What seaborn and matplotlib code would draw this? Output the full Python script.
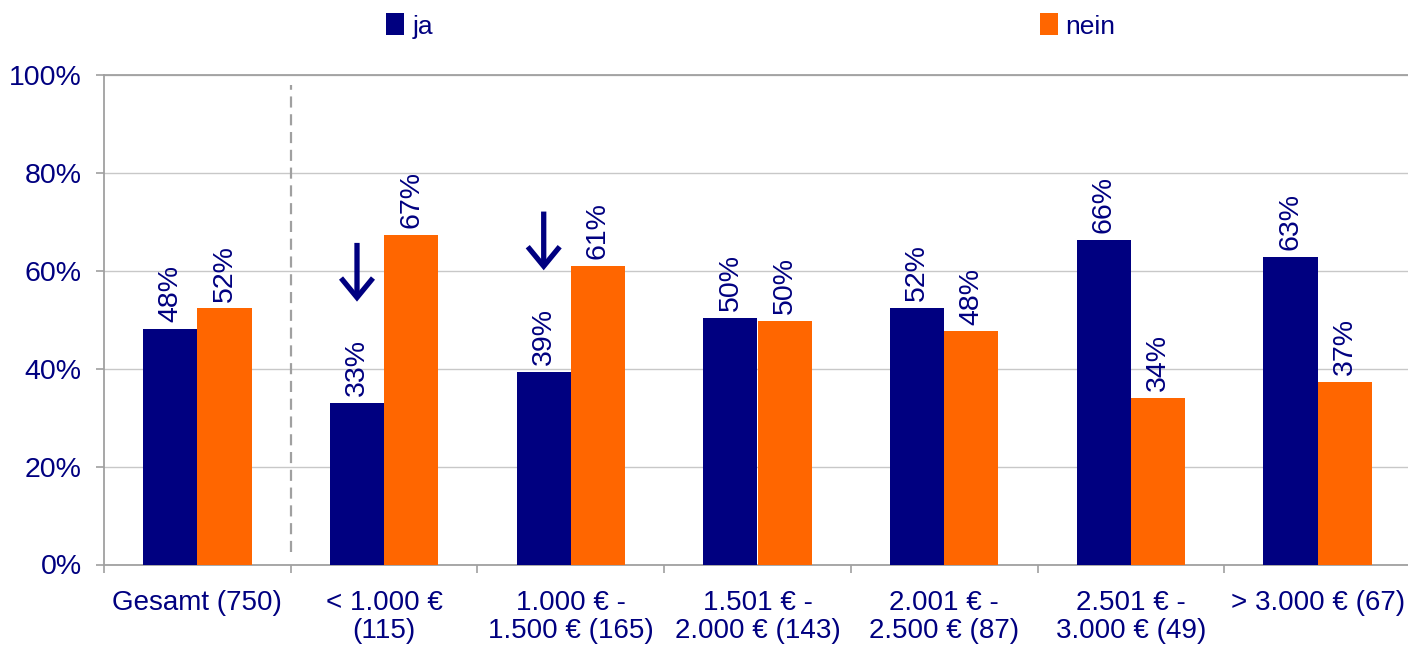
import matplotlib
matplotlib.use("Agg")
import matplotlib.pyplot as plt
from matplotlib.patches import Patch
from matplotlib.ticker import FixedLocator, PercentFormatter
import seaborn as sns
import pandas as pd

# ---- data ----
categories = ["Gesamt (750)", "< 1.000 €\n(115)", "1.000 € -\n1.500 € (165)",
              "1.501 € -\n2.000 € (143)", "2.001 € -\n2.500 € (87)",
              "2.501 € -\n3.000 € (49)", "> 3.000 € (67)"]
series = ["ja", "nein"]
ja = [48.1, 33.0, 39.4, 50.4, 52.4, 66.3, 62.8]
nein = [52.3, 67.4, 61.0, 49.7, 47.6, 34.0, 37.3]
arrow_cats = [1, 2]          # categories marked with a downward arrow
y_ticks = [0, 20, 40, 60, 80, 100]

NAVY = "#000080"
ORANGE = "#FF6600"
GREY = "#A0A0A0"

df = pd.DataFrame({
    "cat": categories * 2,
    "grp": ["ja"] * len(ja) + ["nein"] * len(nein),
    "val": ja + nein,
})

sns.set_style("white")
plt.rcParams["font.family"] = ["Liberation Sans", "DejaVu Sans"]

fig = plt.figure(figsize=(14.08, 6.53), dpi=100)
ax = fig.add_axes([104 / 1408, 1 - 564.5 / 653, (1411 - 104) / 1408, (564.5 - 75) / 653])

sns.barplot(data=df, x="cat", y="val", hue="grp", order=categories, hue_order=series,
            palette=[NAVY, ORANGE], width=0.58, gap=0, saturation=1, linewidth=0,
            legend=False, ax=ax, zorder=3)

ax.set_xlim(-0.5, len(categories) - 0.5)
ax.set_ylim(0, 100)
ax.set_xlabel("")
ax.set_ylabel("")

# y axis
ax.yaxis.set_major_locator(FixedLocator(y_ticks))
ax.yaxis.set_major_formatter(PercentFormatter(decimals=0))
ax.tick_params(axis="y", which="major", length=6, width=1.2, color=GREY,
               labelsize=20.5, labelcolor=NAVY, pad=10, left=True)
ax.grid(axis="y", color="#C8C8C8", linewidth=1, zorder=0)
ax.grid(axis="x", visible=False)

# x axis: labels at centers, ticks at boundaries
ax.tick_params(axis="x", which="major", length=0, labelsize=20, labelcolor=NAVY, pad=18)
ax.set_xticks(range(len(categories)))
ax.set_xticklabels(categories, linespacing=1.15)
ax.set_xticks([i - 0.5 for i in range(len(categories) + 1)], minor=True)
ax.tick_params(axis="x", which="minor", length=6, width=1.2, color=GREY, bottom=True)

for side in ["left", "bottom", "top"]:
    ax.spines[side].set_visible(True)
    ax.spines[side].set_color(GREY)
    ax.spines[side].set_linewidth(1.3)
ax.spines["right"].set_visible(False)

# separator after Gesamt
ax.axvline(0.5, ymin=0.026, ymax=0.98, color=GREY, linewidth=1.6,
           linestyle=(0, (5, 3)), zorder=2)

# value labels
for cont in ax.containers:
    ax.bar_label(cont, labels=[f"{round(b.get_height()):.0f}%" for b in cont],
                 rotation=90, padding=5, fontsize=20.5, color=NAVY)

# arrows above the ja bars of the low-income groups
ja_bars = ax.containers[0]
for i in arrow_cats:
    b = ja_bars[i]
    xc = b.get_x() + b.get_width() / 2
    v = ja[i]
    ax.annotate("", xy=(xc, v + 20.7), xytext=(xc, v + 32.7),
                arrowprops=dict(arrowstyle="->,head_length=1.4,head_width=1.15",
                                color=NAVY, lw=3.8, shrinkA=0, shrinkB=0,
                                joinstyle="miter", capstyle="butt"),
                zorder=5)

# legend
handles = [Patch(facecolor=NAVY, edgecolor="none"), Patch(facecolor=ORANGE, edgecolor="none")]
fig.legend(handles, series, loc="center", bbox_to_anchor=(751 / 1408, 1 - 26 / 653),
           ncol=2, frameon=False, fontsize=19, labelcolor=NAVY,
           handlelength=0.68, handleheight=0.9, handletextpad=0.3,
           columnspacing=23.0, borderpad=0, borderaxespad=0)

fig.savefig("out.png", dpi=100)
